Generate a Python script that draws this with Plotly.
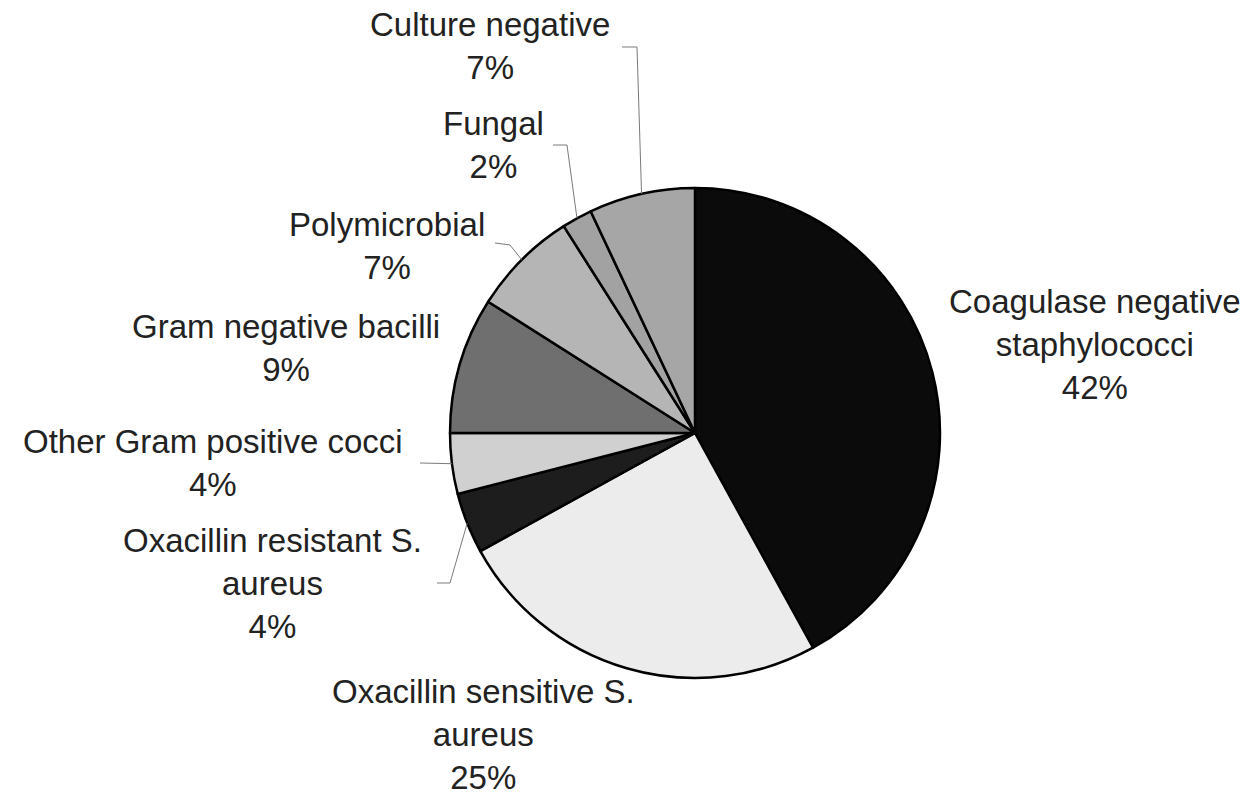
import math
import plotly.graph_objects as go

# ---- data ----
categories = [
    "Coagulase negative staphylococci",
    "Oxacillin sensitive S. aureus",
    "Oxacillin resistant S. aureus",
    "Other Gram positive cocci",
    "Gram negative bacilli",
    "Polymicrobial",
    "Fungal",
    "Culture negative",
]
display_labels = [
    "Coagulase negative<br>staphylococci",
    "Oxacillin sensitive S.<br>aureus",
    "Oxacillin resistant S.<br>aureus",
    "Other Gram positive cocci",
    "Gram negative bacilli",
    "Polymicrobial",
    "Fungal",
    "Culture negative",
]
percent_values = [42, 25, 4, 4, 9, 7, 2, 7]

# ---- style ----
slice_colors = ["#0b0b0b", "#ececec", "#1d1d1d", "#d0d0d0",
                "#6f6f6f", "#b5b5b5", "#a2a2a2", "#a6a6a6"]

W, H = 1253, 799
CX, CY, R = 695, 433, 245  # pie centre and radius in pixels

# label block centres (pixels) and leader-line label-side points
label_pos = [
    (1095, 345), (483, 734), (272, 583), (213, 463),
    (286, 348), (387, 246), (493, 145), (490, 46),
]
leader_pts = [
    None, None, [(437, 583), (450, 583)], [(420, 463)],
    None, [(495, 243), (510, 245)], [(553, 145), (567, 145)], [(622, 47), (637, 47)],
]

def px(x):
    return x / W

def py(y):
    return 1 - y / H

fig = go.Figure(go.Pie(
    labels=categories,
    values=percent_values,
    sort=False,
    direction="clockwise",
    rotation=0,
    textinfo="none",
    hoverinfo="label+percent",
    marker=dict(colors=slice_colors, line=dict(color="#000000", width=2.5)),
    domain=dict(x=[px(CX - R), px(CX + R)], y=[py(CY + R), py(CY - R)]),
    showlegend=False,
))

total = sum(percent_values)
cum = 0
shapes = []
annotations = []
for i, v in enumerate(percent_values):
    mid = (cum + v / 2) / total
    cum += v
    ang = 2 * math.pi * mid
    ex = CX + R * math.sin(ang)
    ey = CY - R * math.cos(ang)
    if leader_pts[i]:
        pts = leader_pts[i] + [(ex, ey)]
        path = "M " + " L ".join(f"{px(x):.5f},{py(y):.5f}" for x, y in pts)
        shapes.append(dict(type="path", xref="paper", yref="paper", path=path,
                           line=dict(color="#7a7a7a", width=1)))
    lx, ly = label_pos[i]
    annotations.append(dict(
        x=px(lx), y=py(ly), xref="paper", yref="paper",
        text=f"{display_labels[i]}<br>{percent_values[i]}%",
        showarrow=False, xanchor="center", yanchor="middle", align="center",
        font=dict(family="Liberation Sans, Arial, sans-serif", size=33, color="#222222"),
    ))

fig.update_layout(
    width=W, height=H,
    margin=dict(l=0, r=0, t=0, b=0),
    paper_bgcolor="white", plot_bgcolor="white",
    shapes=shapes, annotations=annotations,
)

fig.write_html("out.html")
